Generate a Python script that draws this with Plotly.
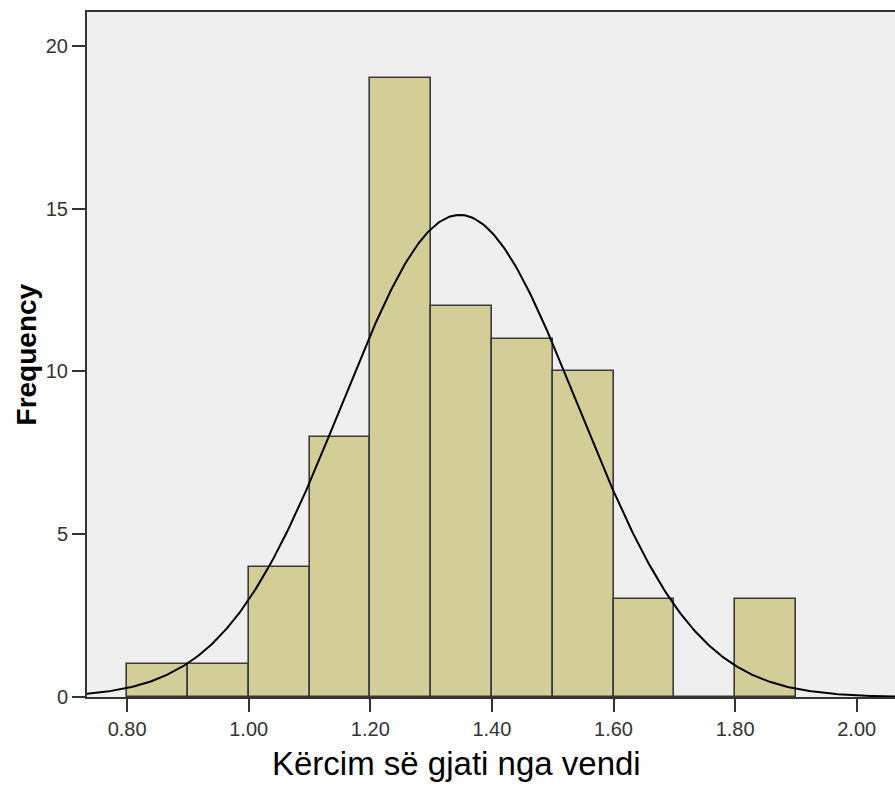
import numpy as np
import plotly.graph_objects as go

bin_starts = [0.80, 0.90, 1.00, 1.10, 1.20, 1.30, 1.40, 1.50, 1.60, 1.70, 1.80]
counts = [1, 1, 4, 8, 19, 12, 11, 10, 3, 0, 3]
bin_width = 0.1
curve_mean = 1.347
curve_sd = 0.194
x_ticks = [0.80, 1.00, 1.20, 1.40, 1.60, 1.80, 2.00]
x_tick_text = ["0.80", "1.00", "1.20", "1.40", "1.60", "1.80", "2.00"]
y_ticks = [0, 5, 10, 15, 20]
x_title = "Kërcim së gjati nga vendi"
y_title = "Frequency"

n_total = sum(counts)
mids = [s + bin_width / 2 for s in bin_starts]

xs = np.linspace(0.73, 2.07, 400)
ys = n_total * bin_width / (curve_sd * np.sqrt(2 * np.pi)) * np.exp(-0.5 * ((xs - curve_mean) / curve_sd) ** 2)

fig = go.Figure()
fig.add_trace(go.Bar(
    x=mids, y=counts, width=bin_width,
    marker=dict(color="#D3CE97", line=dict(color="#3a3a3a", width=1.6)),
    hoverinfo="x+y",
))
fig.add_trace(go.Scatter(x=xs, y=ys, mode="lines", line=dict(color="black", width=2), hoverinfo="skip"))

fig.update_layout(
    width=895, height=787,
    margin=dict(l=87, r=0, t=12, b=90),
    paper_bgcolor="white",
    plot_bgcolor="#EFEFEF",
    showlegend=False,
    bargap=0,
    font=dict(family="Liberation Sans, Arial, sans-serif", color="#222222"),
    xaxis=dict(
        range=[0.734, 2.063],
        tickvals=x_ticks, ticktext=x_tick_text,
        ticks="outside", ticklen=13, tickwidth=2, tickcolor="#333333",
        tickfont=dict(size=20, color="#333333"),
        showgrid=False, zeroline=False,
        showline=True, linecolor="#333333", linewidth=2, mirror=True,
    ),
    yaxis=dict(
        range=[0, 21.04],
        tickvals=y_ticks,
        ticks="outside", ticklen=13, tickwidth=2, tickcolor="#333333",
        tickfont=dict(size=20, color="#333333"),
        showgrid=False, zeroline=False,
        showline=True, linecolor="#333333", linewidth=2,
    ),
    annotations=[
        dict(text=x_title, xref="x", yref="paper", x=1.341, y=-0.0964,
             xanchor="center", yanchor="middle", showarrow=False,
             font=dict(size=33, color="black")),
        dict(text="<b>" + y_title + "</b>", xref="paper", yref="paper", x=-0.0743, y=0.5,
             xanchor="center", yanchor="middle", textangle=-90, showarrow=False,
             font=dict(size=28, color="black")),
    ],
)

fig.write_html("out.html")
